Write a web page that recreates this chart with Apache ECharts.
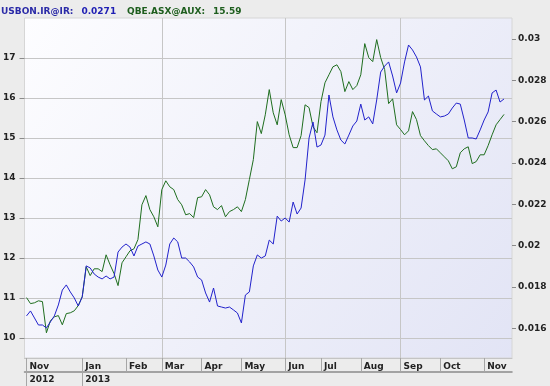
<!DOCTYPE html>
<html>
<head>
    <meta charset="utf-8">
    <title>USBON.IR vs QBE.ASX</title>
    <script src="https://cdn.jsdelivr.net/npm/echarts@6/dist/echarts.min.js"></script>
    <style>
        html, body { margin: 0; padding: 0; background: #ececec; }
        #chart { width: 550px; height: 386px; }
    </style>
</head>
<body>
<div id="chart"></div>
<script>
    // series names as shown in the header
    var blueName = 'USBON.IR@IR';
    var greenName = 'QBE.ASX@AUX';

    // one sample about every two trading days, Nov 2012 -> Nov 2013
    var usbon = [
        0.01660, 0.01684, 0.01650, 0.01616, 0.01616, 0.01602, 0.01631, 0.01660, 0.01713, 0.01785,
        0.01810, 0.01776, 0.01747, 0.01708, 0.01752, 0.01902, 0.01892, 0.01863, 0.01848, 0.01839,
        0.01853, 0.01839, 0.01848, 0.01969, 0.01993, 0.02008, 0.01993, 0.01950, 0.01998, 0.02008,
        0.02018, 0.02008, 0.01950, 0.01882, 0.01848, 0.01906, 0.02008, 0.02037, 0.02018, 0.01940,
        0.01940, 0.01921, 0.01897, 0.01848, 0.01834, 0.01771, 0.01727, 0.01795, 0.01708, 0.01703,
        0.01698, 0.01703, 0.01689, 0.01674, 0.01626, 0.01761, 0.01776, 0.01902, 0.01955, 0.01940,
        0.01950, 0.02027, 0.02008, 0.02143, 0.02119, 0.02134, 0.02114, 0.02211, 0.02153, 0.02182,
        0.02318, 0.02521, 0.02598, 0.02477, 0.02487, 0.02535, 0.02729, 0.02623, 0.02560, 0.02511,
        0.02492, 0.02535, 0.02579, 0.02603, 0.02685, 0.02608, 0.02623, 0.02589, 0.02705, 0.02840,
        0.02869, 0.02889, 0.02821, 0.02739, 0.02787, 0.02889, 0.02971, 0.02947, 0.02913, 0.02865,
        0.02705, 0.02724, 0.02652, 0.02637, 0.02623, 0.02627, 0.02637, 0.02666, 0.02690, 0.02685,
        0.02608, 0.02521, 0.02521, 0.02516, 0.02560, 0.02608, 0.02647, 0.02739, 0.02753, 0.02695,
        0.0271
    ];
    var qbe = [
        11.01, 10.86, 10.88, 10.93, 10.91, 10.13, 10.43, 10.53, 10.56, 10.33,
        10.61, 10.63, 10.68, 10.81, 11.03, 11.78, 11.56, 11.73, 11.73, 11.66,
        12.08, 11.83, 11.61, 11.31, 11.88, 12.03, 12.18, 12.23, 12.46, 13.33,
        13.56, 13.21, 13.03, 12.78, 13.71, 13.93, 13.78, 13.71, 13.46, 13.33,
        13.08, 13.11, 13.01, 13.51, 13.53, 13.71, 13.58, 13.28, 13.21, 13.31,
        13.03, 13.16, 13.21, 13.28, 13.16, 13.46, 13.96, 14.46, 15.41, 15.11,
        15.58, 16.21, 15.63, 15.33, 15.96, 15.58, 15.08, 14.76, 14.76, 15.06,
        15.83, 15.76, 15.28, 15.13, 15.91, 16.38, 16.58, 16.78, 16.83, 16.66,
        16.16, 16.41, 16.21, 16.31, 16.58, 17.36, 17.01, 16.91, 17.46, 17.01,
        16.71, 15.86, 15.98, 15.33, 15.21, 15.08, 15.18, 15.66, 15.46, 15.06,
        14.93, 14.81, 14.71, 14.73, 14.63, 14.53, 14.43, 14.23, 14.28, 14.63,
        14.73, 14.78, 14.36, 14.41, 14.58, 14.58, 14.81, 15.08, 15.33, 15.46,
        15.59
    ];

    // first sample of each labelled month / year, and the quarter grid lines
    var monthStarts = [0, 14, 25, 34, 44, 54, 65, 74, 84, 94, 104, 115];
    var monthNames = ['Nov', 'Jan', 'Feb', 'Mar', 'Apr', 'May', 'Jun', 'Jul', 'Aug', 'Sep', 'Oct', 'Nov'];
    var yearStarts = [0, 14];
    var yearNames = ['2012', '2013'];
    var quarterStarts = [34, 65, 94];

    var leftTicks = [10, 11, 12, 13, 14, 15, 16, 17];
    var rightTicks = [0.016, 0.018, 0.02, 0.022, 0.024, 0.026, 0.028, 0.03];

    var font = 'DejaVu Sans';
    var labelStyle = {fontFamily: font, fontWeight: 'bold', fontSize: 9, color: '#222'};

    var chart = echarts.init(document.getElementById('chart'));

    var option = {
        animation: false,
        backgroundColor: '#ececec',
        title: [
            {
                left: 1, top: 3, padding: 0,
                text: '{n|' + blueName + ':} {v|' + usbon[usbon.length - 1] + '}',
                textStyle: {
                    rich: {
                        n: {fontFamily: font, fontWeight: 'bold', fontSize: 9, color: '#2b2ba8'},
                        v: {fontFamily: font, fontWeight: 'bold', fontSize: 9, color: '#1f1fb4', padding: [0, 0, 0, 3]}
                    }
                }
            },
            {
                left: 127, top: 3, padding: 0,
                text: '{n|' + greenName + ':} {v|' + qbe[qbe.length - 1] + '}',
                textStyle: {
                    rich: {
                        n: {fontFamily: font, fontWeight: 'bold', fontSize: 9, color: '#1e5e1e'},
                        v: {fontFamily: font, fontWeight: 'bold', fontSize: 9, color: '#1e5e1e', padding: [0, 0, 0, 3]}
                    }
                }
            }
        ],
        grid: {
            left: 22, right: 38, top: 18, bottom: 28,
            show: true,
            borderColor: '#d6d6d6',
            borderWidth: 1,
            backgroundColor: new echarts.graphic.LinearGradient(0, 0, 1, 1, [
                {offset: 0, color: '#fdfdff'},
                {offset: 1, color: '#e2e4f5'}
            ])
        },
        xAxis: [
            {
                type: 'value', min: -0.5, max: 122, position: 'bottom',
                axisLine: {show: true, onZero: false, lineStyle: {color: '#c4c4c4'}},
                axisTick: {show: true, customValues: monthStarts, length: 14, lineStyle: {color: '#a6a6a6'}},
                axisLabel: Object.assign({
                    customValues: monthStarts,
                    formatter: function (v) { return monthNames[monthStarts.indexOf(v)]; },
                    align: 'left', margin: 4, padding: [0, 0, 0, 3]
                }, labelStyle),
                splitLine: {show: false}
            },
            {
                type: 'value', min: -0.5, max: 122, position: 'bottom', offset: 14,
                axisLine: {show: true, onZero: false, lineStyle: {color: '#8a8a8a', width: 1.5}},
                axisTick: {show: true, customValues: yearStarts, length: 14, lineStyle: {color: '#a6a6a6'}},
                axisLabel: Object.assign({
                    customValues: yearStarts,
                    formatter: function (v) { return yearNames[yearStarts.indexOf(v)]; },
                    align: 'left', margin: 3, padding: [0, 0, 0, 3]
                }, labelStyle),
                splitLine: {show: false}
            },
            {
                type: 'value', min: -0.5, max: 122, position: 'top',
                axisLine: {show: false, onZero: false},
                axisTick: {show: false, customValues: quarterStarts},
                axisLabel: {show: false},
                splitLine: {show: true, lineStyle: {color: '#c6c6c6', width: 1}}
            }
        ],
        yAxis: [
            {
                type: 'value', min: 9.5, max: 18, position: 'left',
                axisLine: {show: false, onZero: false},
                axisTick: {show: true, customValues: leftTicks, length: 5, lineStyle: {color: '#8a8a8a'}},
                axisLabel: Object.assign({customValues: leftTicks, margin: 9}, labelStyle),
                splitLine: {show: true, lineStyle: {color: '#c6c6c6', width: 1}}
            },
            {
                type: 'value', min: 0.014563, max: 0.031016, position: 'right',
                axisLine: {show: false, onZero: false},
                axisTick: {show: true, customValues: rightTicks, length: 4, lineStyle: {color: '#8a8a8a'}},
                axisLabel: Object.assign({customValues: rightTicks, margin: 6}, labelStyle),
                splitLine: {show: false}
            }
        ],
        series: [
            {
                name: greenName,
                type: 'line',
                xAxisIndex: 0,
                yAxisIndex: 0,
                symbol: 'none',
                data: qbe.map(function (v, i) { return [i, v]; }),
                lineStyle: {color: '#1f6e1f', width: 1},
                itemStyle: {color: '#1f6e1f'}
            },
            {
                name: blueName,
                type: 'line',
                xAxisIndex: 0,
                yAxisIndex: 1,
                symbol: 'none',
                data: usbon.map(function (v, i) { return [i, v]; }),
                lineStyle: {color: '#2222cc', width: 1},
                itemStyle: {color: '#2222cc'}
            }
        ]
    };

    chart.setOption(option);
</script>
</body>
</html>
